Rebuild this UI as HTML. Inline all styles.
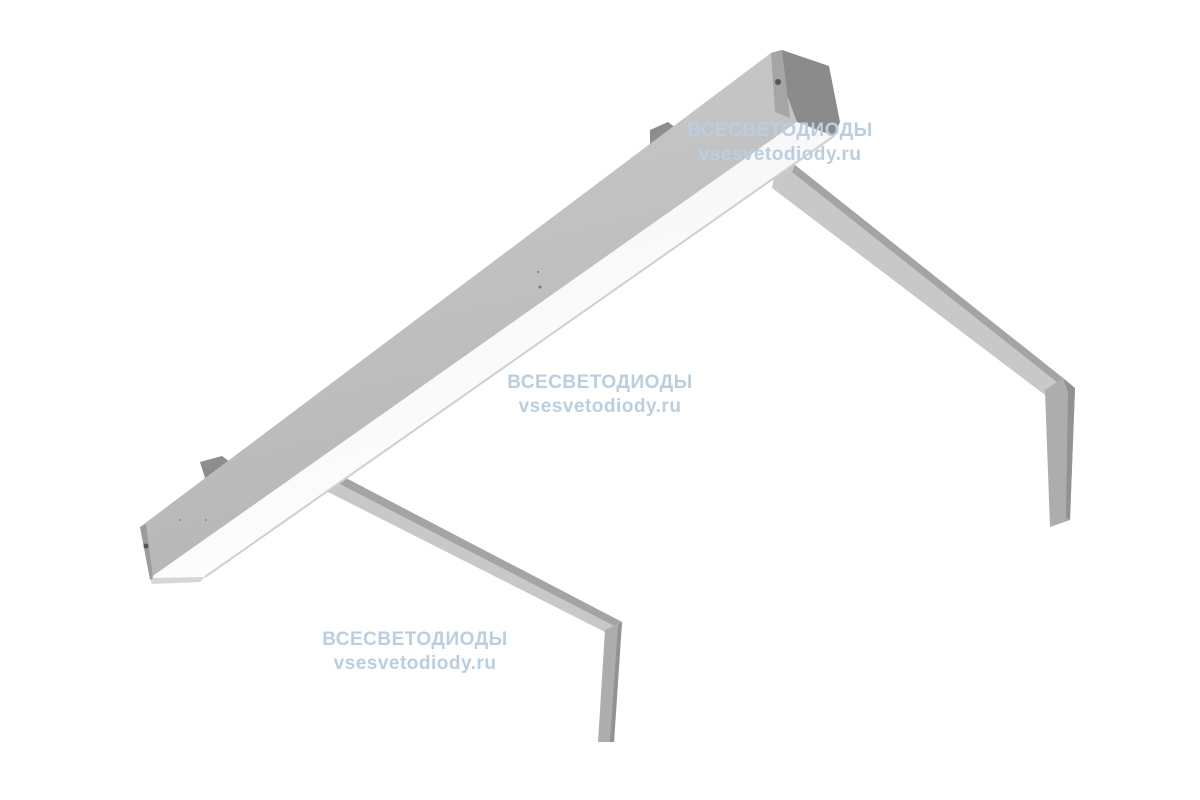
<!DOCTYPE html>
<html><head><meta charset="utf-8"><style>
html,body{margin:0;padding:0;background:#fff;}
.wm{position:absolute;font-family:"Liberation Sans","DejaVu Sans",sans-serif;font-weight:bold;color:#b9cfe0;font-size:19px;text-align:center;width:240px;line-height:24px;letter-spacing:0.5px}
</style></head><body>
<div style="position:relative;width:1200px;height:800px;overflow:hidden">
<svg width="1200" height="800" style="position:absolute;left:0;top:0">
<defs>
<linearGradient id="g1" x1="0" y1="0" x2="0.3" y2="1"><stop offset="0" stop-color="#cbcbcb"/><stop offset="1" stop-color="#b6b6b6"/></linearGradient>
<linearGradient id="gd" x1="0" y1="0" x2="0.6" y2="1"><stop offset="0" stop-color="#f2f2f2"/><stop offset="1" stop-color="#ffffff"/></linearGradient>
</defs>
<!-- right bracket -->
<polygon points="775,172 795,165 1063,378 1045,395 772,188" fill="#c8c8c8"/>
<polygon points="795,165 1063,378 1058,383 792,172" fill="#a4a4a4"/>
<polygon points="1045,390 1063,378 1075,388 1070,520 1050,527" fill="#adadad"/>
<polygon points="1063,378 1075,388 1070,520 1066,518 1068,392" fill="#929292"/>
<!-- left bracket -->
<polygon points="330,480 342,476 622,622 607,633 328,492" fill="#c8c8c8"/>
<polygon points="342,476 622,622 618,628 340,484" fill="#a4a4a4"/>
<polygon points="605,630 622,622 614,742 598,742" fill="#adadad"/>
<polygon points="618,625 622,622 614,742 610,742" fill="#929292"/>
<!-- clips -->
<polygon points="650,130 668,122 676,128 676,142 655,150 650,145" fill="#8d8d8d"/>
<polygon points="200,462 222,456 230,462 226,476 205,478" fill="#8d8d8d"/>
<!-- body side face -->
<polygon points="140,527 771,53 797,122 150,578" fill="url(#g1)"/>
<!-- diffuser -->
<polygon points="150,578 797,122 834,136 205,577" fill="url(#gd)"/>
<line x1="834" y1="136" x2="205" y2="577" stroke="#cfcfcf" stroke-width="2"/>
<polygon points="150,578 205,577 200,582 152,584" fill="#d6d6d6"/>
<!-- end cap -->
<polygon points="771,53 782,50 829,66 840,122 834,136 797,122" fill="#8b8b8b"/>
<polygon points="771,53 782,50 790,118 775,112" fill="#a5a5a5"/>
<circle cx="778" cy="82" r="3" fill="#555"/>
<!-- left end -->
<polygon points="140,527 146,524 153,578 150,580" fill="#9c9c9c"/>
<circle cx="146" cy="546" r="2.5" fill="#555"/>
<circle cx="540" cy="287" r="1.5" fill="#777"/><circle cx="538" cy="272" r="1" fill="#777"/>
<circle cx="206" cy="520" r="1" fill="#888"/><circle cx="180" cy="520" r="1" fill="#888"/>
</svg>
<div class="wm" style="left:660px;top:119px">ВСЕСВЕТОДИОДЫ<br>vsesvetodiody.ru</div>
<div class="wm" style="left:480px;top:371px">ВСЕСВЕТОДИОДЫ<br>vsesvetodiody.ru</div>
<div class="wm" style="left:295px;top:628px">ВСЕСВЕТОДИОДЫ<br>vsesvetodiody.ru</div>
</div>
</body></html>
